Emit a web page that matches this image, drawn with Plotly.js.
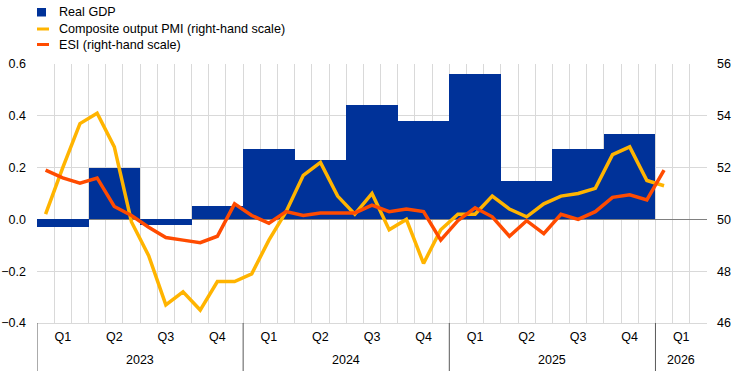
<!DOCTYPE html>
<html>
<head>
<meta charset="utf-8">
<script src="https://cdn.plot.ly/plotly-3.0.1.min.js"></script>
<style>html,body{margin:0;padding:0;background:#fff;}#chart{width:745px;height:371px;}</style>
</head>
<body>
<div id="chart"></div>
<script>
// Quarters 2023Q1 .. 2025Q4 (real GDP, % q-o-q)
const quarterLabels = ['Q1','Q2','Q3','Q4','Q1','Q2','Q3','Q4','Q1','Q2','Q3','Q4','Q1'];
const years = ['2023','2024','2025','2026'];
const yearQuarters = [4, 4, 4, 1];
const gdp = [-0.03, 0.20, -0.02, 0.05, 0.27, 0.23, 0.44, 0.38, 0.56, 0.15, 0.27, 0.33];
// Monthly Jan 2023 .. Jan 2026 (right-hand scale)
const pmi = [50.2, 52.0, 53.7, 54.1, 52.8, 49.9, 48.6, 46.7, 47.2, 46.5, 47.6, 47.6,
             47.9, 49.2, 50.3, 51.7, 52.2, 50.9, 50.2, 51.0, 49.6, 50.0, 48.3, 49.6,
             50.2, 50.2, 50.9, 50.4, 50.1, 50.6, 50.9, 51.0, 51.2, 52.5, 52.8, 51.5,
             51.3];
const esi = [51.9, 51.6, 51.4, 51.6, 50.5, 50.15, 49.7, 49.3, 49.2, 49.1, 49.35, 50.6,
             50.15, 49.85, 50.3, 50.15, 50.25, 50.25, 50.25, 50.55, 50.3, 50.4, 50.3, 49.2,
             49.95, 50.45, 50.1, 49.35, 49.95, 49.45, 50.2, 50.0, 50.3, 50.85, 50.95, 50.75,
             51.9];
const seriesNames = ['Real GDP', 'Composite output PMI (right-hand scale)', 'ESI (right-hand scale)'];
const colors = ['#003299', '#FFB400', '#FF4B00'];

const nMonths = quarterLabels.length * 3;
const qx = gdp.map((_, i) => i * 3 + 1.5);
const mx = pmi.map((_, i) => i + 0.5);
const tickX = quarterLabels.map((_, i) => i * 3 + 1.5);

const traces = [
  {type: 'bar', name: seriesNames[0], x: qx, y: gdp, width: 3,
   marker: {color: colors[0], line: {width: 0}}, yaxis: 'y', showlegend: false},
  {type: 'scatter', mode: 'lines', name: seriesNames[1], x: mx, y: pmi,
   line: {color: colors[1], width: 3.5}, yaxis: 'y2', showlegend: false},
  {type: 'scatter', mode: 'lines', name: seriesNames[2], x: mx.slice(0, esi.length), y: esi,
   line: {color: colors[2], width: 3.5}, yaxis: 'y2', showlegend: false}
];

const W = 745, H = 371, ML = 37, MR = 38, MT = 64, MB = 48;
const PW = W - ML - MR, PH = H - MT - MB;
const px = v => (v - ML) / PW;        // pixel -> paper x
const py = v => (H - MB - v) / PH;    // pixel -> paper y

const shapes = [];
const annotations = [];
// year separators and labels
let start = 0;
years.forEach((yr, i) => {
  const s = start * 3, e = (start + yearQuarters[i]) * 3;
  shapes.push({type: 'line', xref: 'x', yref: 'paper', x0: s, x1: s, y0: 0, y1: py(H),
               line: {color: '#595959', width: 1}});
  annotations.push({xref: 'x', yref: 'paper', x: (s + e) / 2, y: py(360), text: yr, showarrow: false,
                    yanchor: 'middle', font: {size: 12.5, color: '#000'}});
  start += yearQuarters[i];
});

// custom legend
const legendRows = [12, 29, 44.5];
seriesNames.forEach((nm, i) => {
  const ry = legendRows[i];
  if (i === 0) {
    shapes.push({type: 'rect', xref: 'paper', yref: 'paper', x0: px(37), x1: px(46), y0: py(ry + 4.5), y1: py(ry - 4),
                 fillcolor: colors[i], line: {width: 0}});
  } else {
    shapes.push({type: 'line', xref: 'paper', yref: 'paper', x0: px(37), x1: px(49), y0: py(ry), y1: py(ry),
                 line: {color: colors[i], width: 3}});
  }
  annotations.push({xref: 'paper', yref: 'paper', x: px(57), y: py(ry), xanchor: 'left', yanchor: 'middle',
                    text: nm, showarrow: false, font: {size: 12.6, color: '#000'}});
});

const layout = {
  width: W, height: H,
  margin: {l: ML, r: MR, t: MT, b: MB, autoexpand: false},
  paper_bgcolor: '#fff', plot_bgcolor: '#fff',
  font: {family: 'Liberation Sans, Arial, sans-serif', size: 12.5, color: '#000'},
  bargap: 0,
  showlegend: false,
  xaxis: {range: [0, nMonths], tickmode: 'array', tickvals: tickX, ticktext: quarterLabels,
          showgrid: false, zeroline: false, ticks: '', showline: true, linecolor: '#d9d9d9',
          ticklabelstandoff: 2,
          minor: {tickmode: 'linear', tick0: 0, dtick: 1, showgrid: true, gridcolor: '#d9d9d9', gridwidth: 1, ticks: ''},
          fixedrange: true},
  yaxis: {range: [-0.4, 0.6], dtick: 0.2, tickformat: '.1f', showgrid: true, gridcolor: '#d9d9d9',
          zeroline: true, zerolinecolor: '#808080', zerolinewidth: 1, ticks: '', showline: false,
          ticklabelstandoff: 10},
  yaxis2: {range: [46, 56], dtick: 2, overlaying: 'y', side: 'right', showgrid: false,
           zeroline: false, ticks: '', showline: false, ticklabelstandoff: 9},
  shapes: shapes,
  annotations: annotations
};

Plotly.newPlot('chart', traces, layout, {displayModeBar: false, staticPlot: true});
</script>
</body>
</html>
